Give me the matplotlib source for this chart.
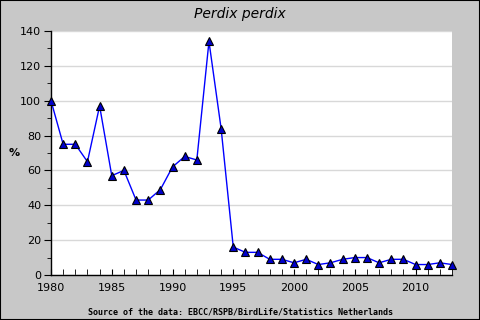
import matplotlib
matplotlib.use("Agg")
import matplotlib.pyplot as plt
from matplotlib.ticker import MultipleLocator

years = list(range(1980, 2014))
values = [100, 75, 75, 65, 97, 57, 60, 43, 43, 49, 62, 68, 66, 134, 84,
          16, 13, 13, 9, 9, 7, 9, 6, 7, 9, 10, 10, 7, 9, 9, 6, 6, 7, 6]
title = "Perdix perdix"
ylabel = "%"
source = "Source of the data: EBCC/RSPB/BirdLife/Statistics Netherlands"

bg = "#C8C8C8"
fig = plt.figure(figsize=(4.8, 3.2), dpi=100, facecolor=bg)
ax = fig.add_axes([51/480, 1-275/320, 401/480, 244/320])
ax.set_facecolor("white")
ax.plot(years, values, color="#0000FF", lw=1, marker="^", markersize=5.5,
        markerfacecolor="#0000CC", markeredgecolor="black", markeredgewidth=0.8,
        clip_on=False, zorder=3)
ax.set_xlim(1980, 2013)
ax.set_ylim(0, 140)
ax.yaxis.set_major_locator(MultipleLocator(20))
ax.yaxis.set_minor_locator(MultipleLocator(10))
ax.xaxis.set_major_locator(MultipleLocator(5))
ax.xaxis.set_minor_locator(MultipleLocator(1))
ax.grid(axis="y", which="major", color="#D8D8D8", lw=1)
ax.set_axisbelow(True)
for s in ["top", "right"]:
    ax.spines[s].set_visible(False)
for s in ["left", "bottom"]:
    ax.spines[s].set_color("black")
    ax.spines[s].set_linewidth(1)
ax.tick_params(axis="y", which="major", direction="out", length=5, labelsize=8, pad=2)
ax.tick_params(axis="y", which="minor", direction="out", length=3)
ax.tick_params(axis="x", which="both", direction="in", length=4, labelsize=8, pad=6)
fig.text(14/480, 1-153/320, ylabel, ha="center", va="center", fontsize=8, fontweight="bold")
fig.text(0.5, 1-14/320, title, ha="center", va="center", fontsize=10, style="italic")
fig.text(0.5, 1-312/320, source, ha="center", va="center", fontsize=6,
         family="DejaVu Sans Mono", fontweight="bold")
border = plt.Rectangle((0, 0), 1, 1, transform=fig.transFigure, fill=False,
                       edgecolor="black", lw=1.5)
fig.patches.append(border)
fig.savefig("out.png", dpi=100, facecolor=bg)
